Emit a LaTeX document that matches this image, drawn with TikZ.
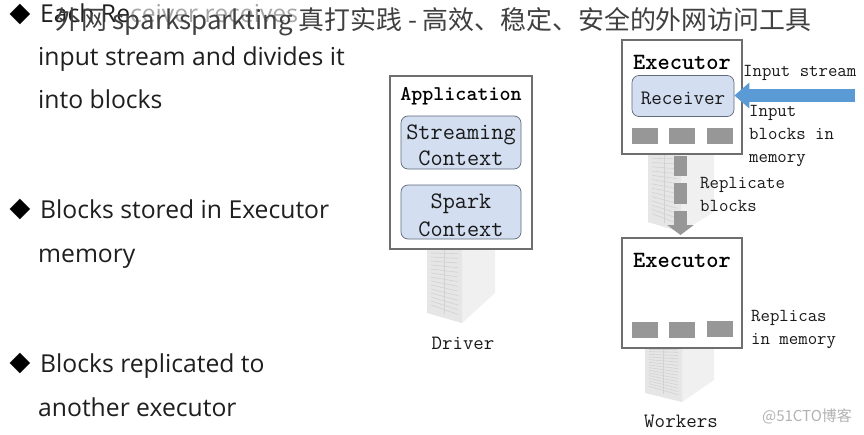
\documentclass[tikz,border=0pt]{standalone}
\usepackage{fontspec}
\usetikzlibrary{arrows.meta}
\setmainfont{Open Sans}
\newfontfamily\cjkfont{Noto Sans CJK SC}
\newfontfamily\symfont{DejaVu Sans}
\newcommand{\monofont}{\ttfamily}
\newcommand{\nudge}[2]{\raisebox{#1}[\height][\depth]{#2}}
\definecolor{boxline}{HTML}{6E6E6E}
\definecolor{panelblue}{HTML}{D3DEF1}
\definecolor{panelline}{HTML}{5F6B7A}
\definecolor{blockgrey}{HTML}{979797}
\definecolor{streamblue}{HTML}{5B9BD5}
\definecolor{srvfront}{HTML}{E6E6E6}
\definecolor{srvside}{HTML}{F0F0F0}
\definecolor{srvgrid}{HTML}{D2D2D2}
\tikzset{
  x=1pt,y=-1pt,
  lefttext/.style={anchor=base west,inner sep=0,text=black!88,font=\fontsize{24.7}{28}\selectfont},
  bullet/.style={anchor=center,inner sep=0,font=\symfont\fontsize{27}{28}\selectfont},
  mono/.style={inner sep=0,align=left,anchor=west,text=black!90,font=\monofont\fontsize{18.3}{23}\selectfont},
  framebox/.style={draw=boxline,line width=1.1pt,fill=white,minimum width=#1,inner sep=0},
  panel/.style={draw=panelline,line width=.7pt,fill=panelblue,rounded corners=7pt,inner sep=0,align=center,text=black!90,
    font=\monofont\fontsize{23.6}{26}\selectfont},
  block/.style={fill=blockgrey,draw=none,minimum width=26pt,minimum height=16pt,inner sep=0},
  headtext/.style={inner sep=0,text=black,font=\monofont\bfseries\fontsize{21}{22}\selectfont},
  seg/.style={fill=blockgrey,draw=none,minimum width=13pt,inner sep=0},
}
\newcommand{\serverIcon}[7]{%
  \fill[srvside] (#2,#4) -- (#3,#4) -- (#3,#7) -- (#2,#6) -- cycle;
  \fill[srvfront] (#1,#4) -- (#2,#4) -- (#2,#6) -- (#1,#5) -- cycle;
  \foreach \k in {0,1,...,14}{
    \draw[srvgrid,line width=.6pt] ({#1+4},{#4+4+\k*(#5-#4-8)/15}) -- ({#2-4},{#4+4+\k*(#6-#4-8)/15});
  }
  \draw[srvgrid,line width=1pt] ({(#1+#2)/2},#4) -- ({(#1+#2)/2},{(#5+#6)/2-4});
}
\begin{document}
\begin{tikzpicture}
\useasboundingbox (0,0) rectangle (864,434);
\fill[white] (0,0) rectangle (864,434);

% left column
\node[bullet] (b1) at (20,14) {◆};
\node[lefttext] (t1a) at (40,22) {Each Re\textcolor{black!35}{ceiver receives}};
\node[lefttext] (t1b) at (38,65) {input stream and divides it};
\node[lefttext] (t1c) at (38,108) {into blocks};
\node[bullet] (b2) at (20,209) {◆};
\node[lefttext] (t2a) at (40,218) {Blocks stored in Executor};
\node[lefttext] (t2b) at (38,262) {memory};
\node[bullet] (b3) at (20,363) {◆};
\node[lefttext] (t3a) at (40,372) {Blocks replicated to};
\node[lefttext] (t3b) at (38,416) {another executor};

% servers
\serverIcon{427}{462}{495}{245}{313}{323}{293}
\serverIcon{648}{681}{714}{150}{222}{232}{212}
\serverIcon{645}{682}{714}{345}{393}{402}{380}

% application
\node[framebox=142pt,minimum height=173pt] (app) at (461,162.5) {};
\node[headtext] (apptitle) at (461,96) {Application};
\node[panel,minimum width=120pt,minimum height=53pt] (stream) at (461,142.5) {\nudge{-3pt}{Streaming}\\\nudge{-3pt}{Context}};
\node[panel,minimum width=120pt,minimum height=54pt] (spark) at (461,212) {\nudge{-2pt}{Spark}\\\nudge{-4pt}{Context}};
\node[mono,anchor=center,font=\monofont\fontsize{20.3}{22}\selectfont] (driver) at (463,343) {Driver};

% executor 1
\node[framebox=120pt,minimum height=114pt] (ex1) at (682,97) {};
\node[headtext,font=\monofont\bfseries\fontsize{23.3}{24}\selectfont] (ex1t) at (682,62) {Executor};
\node[panel,minimum width=102pt,minimum height=41pt,font=\monofont\fontsize{20.5}{22}\selectfont] (recv) at (683,96) {\nudge{-2pt}{Receiver}};
\node[block] (b11) at (645,136) {};
\node[block] (b12) at (682,136) {};
\node[block] (b13) at (720,136) {};

% replicate arrow
\node[seg,minimum height=20pt] (s1) at (680.5,166) {};
\node[seg,minimum height=21pt] (s2) at (680.5,193.5) {};
\coordinate (s3top) at (680.5,211);
\coordinate (s3end) at (680.5,235);
\draw[blockgrey,line width=13pt,-{Triangle[length=10pt,width=26pt]}] (s3top) -- (s3end);

% executor 2
\node[framebox=120pt,minimum height=110pt] (ex2) at (682,293) {};
\node[headtext,font=\monofont\bfseries\fontsize{23.3}{24}\selectfont] (ex2t) at (682,260.5) {Executor};
\node[block] (b21) at (645,330) {};
\node[block] (b22) at (682,330) {};
\node[block] (b23) at (720,329) {};

% input stream
\coordinate (instart) at (855,95.5);
\draw[streamblue,line width=13pt,-{Triangle[length=15pt,width=25pt]}] (instart) -- (recv.east |- instart);

% labels
\node[mono] (lin) at (743,73) {Input stream};
\node[mono] (lib) at (749,135.5) {Input\\blocks in\\memory};
\node[mono] (lrb) at (700,194.5) {Replicate\\blocks};
\node[mono] (lrm) at (751,329) {Replicas\\in memory};
\node[mono,anchor=center,font=\monofont\fontsize{20.4}{22}\selectfont] (workers) at (681,421) {Workers};
\node[inner sep=0,text=black!30,font=\cjkfont\fontsize{15}{18}\selectfont] (wm) at (807,416) {@51CTO博客};

% overlaid title
\node[inner sep=0,anchor=west,text=black!75,font=\cjkfont\fontsize{25.9}{28}\selectfont] (title) at (55,22) {外网 sparksparkting 真打实践 - 高效、稳定、安全的外网访问工具};
\end{tikzpicture}
\end{document}
